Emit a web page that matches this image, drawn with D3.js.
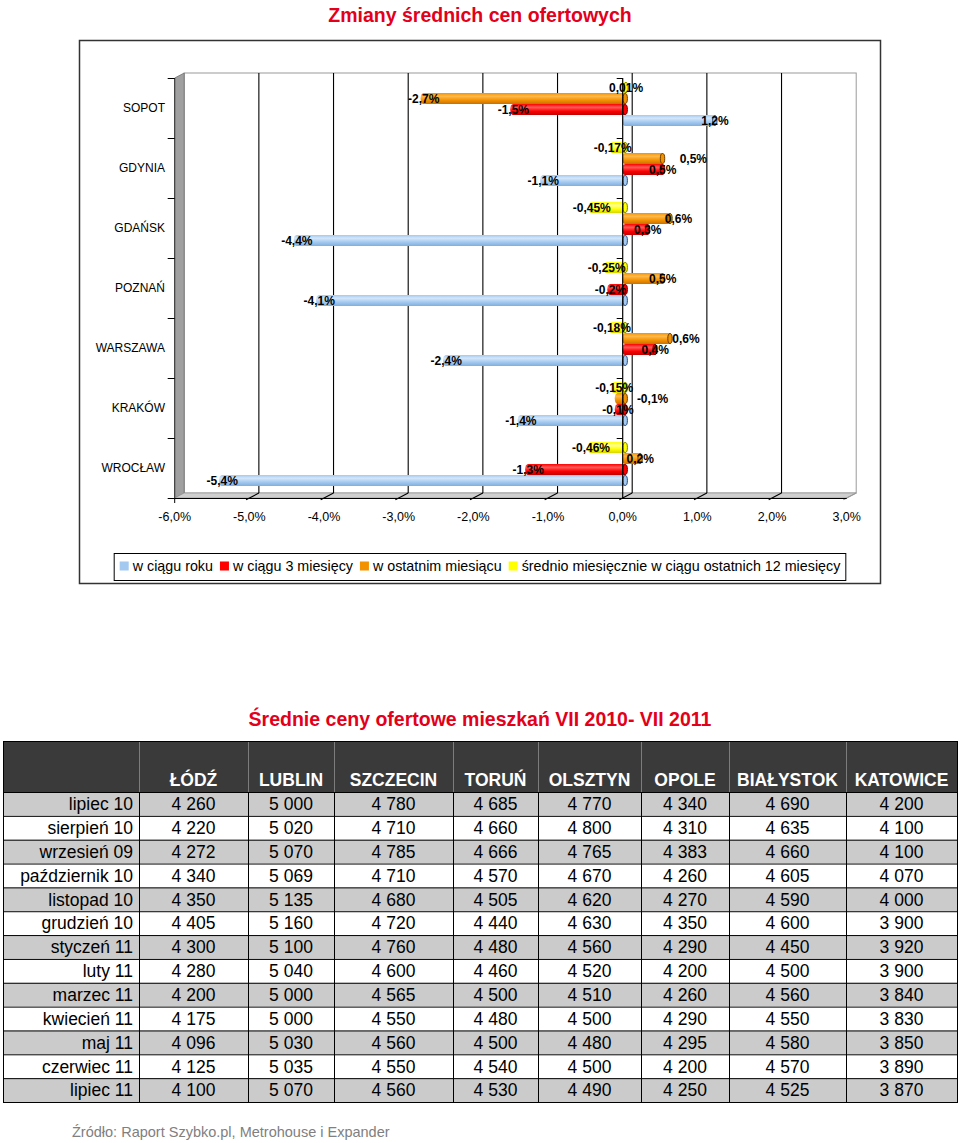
<!DOCTYPE html>
<html><head><meta charset="utf-8">
<script src="https://cdn.jsdelivr.net/npm/d3@7"></script>
<style>body{margin:0;background:#fff}</style>
</head><body><svg id="c" width="960" height="1143"></svg>
<script>
// ---------- DATA ----------
const chartTitle = "Zmiany średnich cen ofertowych";
const categories = ["SOPOT","GDYNIA","GDAŃSK","POZNAŃ","WARSZAWA","KRAKÓW","WROCŁAW"];
const seriesNames = ["w ciągu roku","w ciągu 3 miesięcy","w ostatnim miesiącu","średnio miesięcznie w ciągu ostatnich 12 miesięcy"];
const yearChange       = [1.2, -1.1, -4.4, -4.1, -2.4, -1.4, -5.4];
const threeMonthChange = [-1.5, 0.5, 0.3, -0.2, 0.4, -0.1, -1.3];
const lastMonthChange  = [-2.7, 0.5, 0.6, 0.5, 0.6, -0.1, 0.2];
const avgMonthChange   = [0.01, -0.17, -0.45, -0.25, -0.18, -0.15, -0.46];
const seriesDecimals   = [1, 1, 1, 2];
const xTicks = [-6,-5,-4,-3,-2,-1,0,1,2,3];

const tableTitle = "Średnie ceny ofertowe mieszkań VII 2010- VII 2011";
const months = ["lipiec 10","sierpień 10","wrzesień 09","październik 10","listopad 10","grudzień 10","styczeń 11","luty 11","marzec 11","kwiecień 11","maj 11","czerwiec 11","lipiec 11"];
const cities = ["ŁÓDŹ","LUBLIN","SZCZECIN","TORUŃ","OLSZTYN","OPOLE","BIAŁYSTOK","KATOWICE"];
const lodz      = [4260,4220,4272,4340,4350,4405,4300,4280,4200,4175,4096,4125,4100];
const lublin    = [5000,5020,5070,5069,5135,5160,5100,5040,5000,5000,5030,5035,5070];
const szczecin  = [4780,4710,4785,4710,4680,4720,4760,4600,4565,4550,4560,4550,4560];
const torun     = [4685,4660,4666,4570,4505,4440,4480,4460,4500,4480,4500,4540,4530];
const olsztyn   = [4770,4800,4765,4670,4620,4630,4560,4520,4510,4500,4480,4500,4490];
const opole     = [4340,4310,4383,4260,4270,4350,4290,4200,4260,4290,4295,4200,4250];
const bialystok = [4690,4635,4660,4605,4590,4600,4450,4500,4560,4550,4580,4570,4525];
const katowice  = [4200,4100,4100,4070,4000,3900,3920,3900,3840,3830,3850,3890,3870];
const sourceText = "Źródło: Raport Szybko.pl, Metrohouse i Expander";

// ---------- STYLE / LAYOUT ----------
const FONT = "'Liberation Sans', Arial, Helvetica, sans-serif";
const RED = "#E2001A";
const seriesStyle = [
  {light:"#D2E6FA", base:"#A3C9F0", dark:"#82AEDD", edge:"#2A4A7A"},
  {light:"#FF5A5A", base:"#FF0000", dark:"#C00000", edge:"#6A0000"},
  {light:"#FFB84A", base:"#F39200", dark:"#C87000", edge:"#6A3C00"},
  {light:"#FFFF9A", base:"#FFFF00", dark:"#D6D600", edge:"#7A7A00"}
];
const colWidths = [136,109,86,119,85,103,88,117,111];

const series = [yearChange, threeMonthChange, lastMonthChange, avgMonthChange];
const locale = d3.formatLocale({decimal:",", thousands:" ", grouping:[3], currency:["",""], minus:"-"});
const fmtPct = d => locale.format(".1f")(d) + "%";

const svg = d3.select("#c").style("font-family", FONT);

// gradients
const defs = svg.append("defs");
seriesStyle.forEach((s,i) => {
  const g = defs.append("linearGradient").attr("id","g"+i).attr("x1",0).attr("y1",0).attr("x2",0).attr("y2",1);
  g.append("stop").attr("offset","0%").attr("stop-color",s.base);
  g.append("stop").attr("offset","30%").attr("stop-color",s.light);
  g.append("stop").attr("offset","65%").attr("stop-color",s.base);
  g.append("stop").attr("offset","100%").attr("stop-color",s.dark);
});

// ---------- CHART ----------
svg.append("text").attr("x",480).attr("y",22).attr("text-anchor","middle")
  .attr("font-size",19.5).attr("font-weight","bold").attr("fill",RED).text(chartTitle);

svg.append("rect").attr("x",79.5).attr("y",40.5).attr("width",801).attr("height",543)
  .attr("fill","#fff").attr("stroke","#333").attr("stroke-width",1.5);

const x = d3.scaleLinear().domain([-6,3]).range([174.7,846.7]);
const y = d3.scaleBand().domain(categories).range([78,498]).padding(0);
const inner = d3.scaleBand().domain([3,2,1,0]).range([8,52]).padding(0);
const DX = 9.5, DY = -5, SHIFT = -4, BX = 2.5;
const yTop = y.range()[0], yBot = y.range()[1];
const x0 = x(-6), x1 = x(3);

// back wall
svg.append("rect").attr("x",x0+DX).attr("y",yTop+DY).attr("width",x1-x0).attr("height",yBot-yTop)
  .attr("fill","#fff").attr("stroke","#9a9a9a").attr("stroke-width",1);
// left wall
svg.append("polygon").attr("points",[[x0,yTop],[x0+DX,yTop+DY],[x0+DX,yBot+DY],[x0,yBot]].join(" "))
  .attr("fill","#A0A0A0").attr("stroke","#707070").attr("stroke-width",0.8);
// floor
svg.append("polygon").attr("points",[[x0,yBot],[x0+DX,yBot+DY],[x1+DX,yBot+DY],[x1,yBot]].join(" "))
  .attr("fill","#CFCFCF").attr("stroke","#999").attr("stroke-width",0.8);

// grid lines on back wall and floor
const grid = svg.append("g").attr("stroke","#000").attr("stroke-width",1.1);
xTicks.filter(t => t > -6 && t < 3).forEach(t => {
  grid.append("line").attr("x1",x(t)+DX).attr("x2",x(t)+DX).attr("y1",yTop+DY).attr("y2",yBot+DY);
});
xTicks.filter(t => t > -6).forEach(t => {
  grid.append("line").attr("x1",x(t)+DX).attr("y1",yBot+DY).attr("x2",x(t)-DX*0.35).attr("y2",yBot-DY*0.35)
    .attr("stroke", t===3 ? "#999" : "#000");
});
// front value axis
svg.append("line").attr("x1",x0).attr("x2",x1).attr("y1",yBot+0.5).attr("y2",yBot+0.5).attr("stroke","#000").attr("stroke-width",1.2);
svg.append("line").attr("x1",x0).attr("x2",x0).attr("y1",yBot).attr("y2",yBot+5).attr("stroke","#000");
svg.append("g").selectAll("text").data(xTicks).join("text")
  .attr("x",d=>x(d)).attr("y",521).attr("text-anchor","middle").attr("font-size",12.5).attr("fill","#000")
  .text(fmtPct);

// category axis ticks and labels
const bounds = categories.map(c => y(c)).concat([yBot]);
svg.append("line").attr("x1",x0).attr("x2",x0).attr("y1",yTop).attr("y2",yBot).attr("stroke","#333").attr("stroke-width",1);
svg.append("g").attr("stroke","#000").selectAll("line").data(bounds).join("line")
  .attr("x1",x0-7).attr("x2",x0).attr("y1",d=>d+0.5).attr("y2",d=>d+0.5);
svg.append("g").selectAll("text").data(categories).join("text")
  .attr("x",165).attr("y",d=>y(d)+y.bandwidth()/2).attr("dy","0.35em")
  .attr("text-anchor","end").attr("font-size",12).attr("fill","#000").text(d=>d);

// bars
const barsG = svg.append("g");
series.forEach((vals,s) => {
  vals.forEach((v,ci) => {
    const h = inner.bandwidth();
    const yy = y(categories[ci]) + inner(s) + SHIFT;
    const L = x(Math.min(0,v)) + BX, R = x(Math.max(0,v)) + BX;
    const g = barsG.append("g");
    g.append("ellipse").attr("cx",L).attr("cy",yy+h/2).attr("rx",3).attr("ry",h/2).attr("fill","url(#g"+s+")");
    g.append("rect").attr("x",L).attr("y",yy).attr("width",Math.max(R-L,0.5)).attr("height",h).attr("fill","url(#g"+s+")");
    g.append("ellipse").attr("cx",R).attr("cy",yy+h/2).attr("rx",2.2).attr("ry",h/2-0.5)
      .attr("fill",seriesStyle[s].base).attr("stroke",seriesStyle[s].edge).attr("stroke-width",1);
  });
});

// zero axis in front
svg.append("line").attr("x1",x(0)).attr("x2",x(0)).attr("y1",yTop).attr("y2",yBot).attr("stroke","#000").attr("stroke-width",1.2);
svg.append("g").attr("stroke","#000").selectAll("line").data(bounds).join("line")
  .attr("x1",x(0)-6).attr("x2",x(0)).attr("y1",d=>d+0.5).attr("y2",d=>d+0.5);

// data labels: centered on bar end, nudged right when colliding with an already placed label
const labG = svg.append("g");
const placed = [];
categories.forEach((c,ci) => {
  series.forEach((vals,s) => {
    const v = vals[ci];
    const f = locale.format("."+seriesDecimals[s]+"f");
    const yy = y(c) + inner(s) + SHIFT + inner.bandwidth()/2;
    const t = labG.append("text").attr("x",x(v)+BX).attr("y",yy).attr("dy","0.36em").attr("text-anchor","middle")
      .attr("font-size",12).attr("font-weight","bold").attr("fill","#000").text(f(v)+"%");
    let b = t.node().getBBox();
    let box = {x0:b.x, x1:b.x+b.width, y0:b.y, y1:b.y+b.height};
    for (let k=0; k<6; k++) {
      const hit = placed.filter(p => p.x0 < box.x1 && p.x1 > box.x0 && p.y0 < box.y1 && p.y1 > box.y0);
      if (!hit.length) break;
      const shift = d3.max(hit, p => p.x1) + 3 - box.x0;
      box.x0 += shift; box.x1 += shift;
    }
    t.attr("x",(box.x0+box.x1)/2);
    placed.push(box);
  });
});

// legend
const legBox = svg.append("rect");
const legG = svg.append("g");
let lx = 0;
seriesNames.forEach((n,i) => {
  const it = legG.append("g");
  it.append("rect").attr("x",0).attr("y",-4.5).attr("width",9).attr("height",9).attr("fill",seriesStyle[i].base);
  const t = it.append("text").attr("x",13).attr("y",0).attr("dy","0.35em").attr("font-size",14.3).attr("fill","#000").text(n);
  const w = 13 + t.node().getComputedTextLength();
  it.attr("transform",`translate(${lx},566)`);
  lx += w + 7;
});
const legW = lx - 7;
const legX = 480 - legW/2;
legG.attr("transform",`translate(${legX},0)`);
legBox.attr("x",legX-5.5).attr("y",553.5).attr("width",legW+11).attr("height",27)
  .attr("fill","#fff").attr("stroke","#000").attr("stroke-width",1);

// ---------- TABLE ----------
svg.append("text").attr("x",480).attr("y",726).attr("text-anchor","middle")
  .attr("font-size",19.5).attr("font-weight","bold").attr("fill",RED).text(tableTitle);

const colX = [3];
colWidths.forEach(w => colX.push(colX[colX.length-1] + w));
const tLeft = colX[0], tRight = colX[colX.length-1];
const headTop = 741;
const rows = d3.scaleBand().domain(months).range([792,1102]);
const cityCols = [lodz, lublin, szczecin, torun, olsztyn, opole, bialystok, katowice];
const fmtNum = locale.format(",d");

const tab = svg.append("g");
tab.append("rect").attr("x",tLeft).attr("y",headTop).attr("width",tRight-tLeft).attr("height",rows.range()[0]-headTop).attr("fill","#3A3A3A");
tab.selectAll("rect.row").data(months).join("rect").attr("class","row")
  .attr("x",tLeft).attr("y",d=>rows(d)).attr("width",tRight-tLeft).attr("height",rows.bandwidth())
  .attr("fill",(d,i)=> i%2===0 ? "#CBCBCB" : "#FFFFFF");
tab.append("g").attr("stroke","#7c7c7c").selectAll("line").data(colX.slice(1,-1)).join("line")
  .attr("x1",d=>d+0.5).attr("x2",d=>d+0.5).attr("y1",headTop).attr("y2",rows.range()[0]);
tab.selectAll("text.h").data(cities).join("text").attr("class","h")
  .attr("x",(d,i)=>(colX[i+1]+colX[i+2])/2).attr("y",786).attr("text-anchor","middle")
  .attr("font-size",17.5).attr("font-weight","bold").attr("fill","#fff").text(d=>d);
tab.selectAll("text.m").data(months).join("text").attr("class","m")
  .attr("x",colX[1]-6).attr("y",d=>rows(d)+rows.bandwidth()/2).attr("dy","0.36em").attr("text-anchor","end")
  .attr("font-size",17.5).attr("fill","#000").text(d=>d);
cityCols.forEach((col,ci) => {
  tab.append("g").selectAll("text").data(col).join("text")
    .attr("x",(colX[ci+1]+colX[ci+2])/2).attr("y",(d,ri)=>rows(months[ri])+rows.bandwidth()/2).attr("dy","0.36em")
    .attr("text-anchor","middle").attr("font-size",17.5).attr("fill","#000").text(d=>fmtNum(d));
});
const rb = months.map(m => rows(m)).concat([rows.range()[1]]);
tab.append("g").attr("stroke","#000").attr("stroke-width",1).selectAll("line").data(rb).join("line")
  .attr("x1",tLeft).attr("x2",tRight).attr("y1",d=>d+0.5).attr("y2",d=>d+0.5);
tab.append("g").attr("stroke","#000").attr("stroke-width",1).selectAll("line").data(colX).join("line")
  .attr("x1",d=>d+0.5).attr("x2",d=>d+0.5).attr("y1",rows.range()[0]).attr("y2",rows.range()[1]);
tab.append("rect").attr("x",tLeft+0.5).attr("y",headTop+0.5).attr("width",tRight-tLeft).attr("height",rows.range()[1]-headTop)
  .attr("fill","none").attr("stroke","#000").attr("stroke-width",1);

svg.append("text").attr("x",72).attr("y",1137).attr("font-size",14.5).attr("fill","#808080").text(sourceText);
</script></body></html>
